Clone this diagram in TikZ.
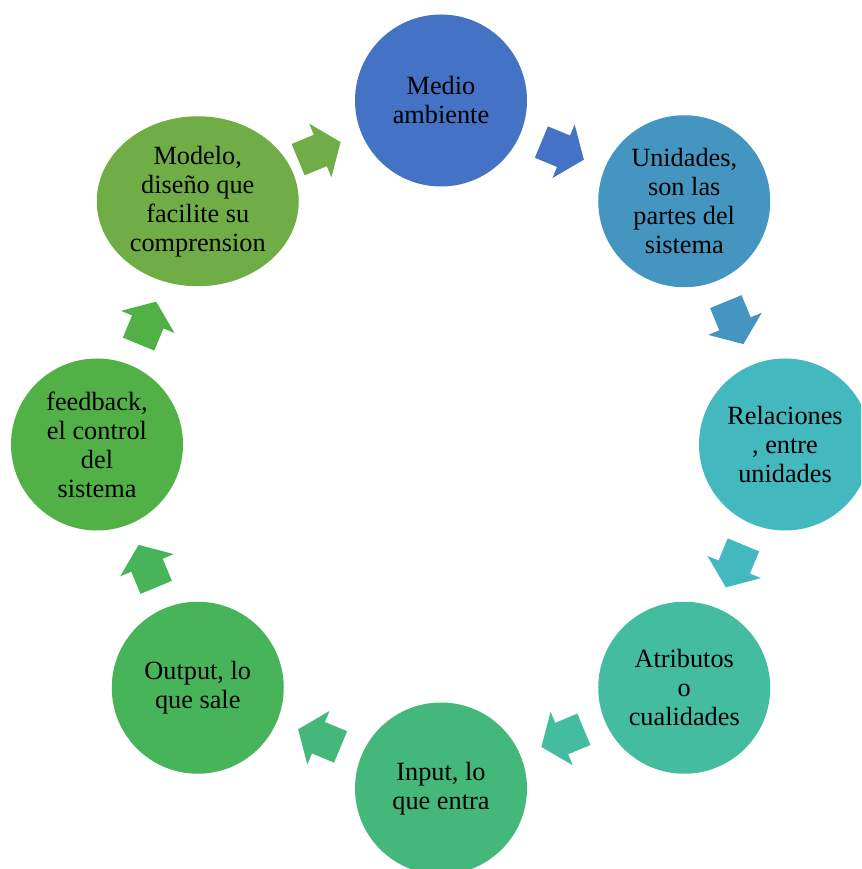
\documentclass[tikz,border=0pt]{standalone}
\usepackage{fontspec}
\setmainfont{Liberation Serif}
\usetikzlibrary{calc,shapes.geometric}
\definecolor{c1}{RGB}{68,114,196}
\definecolor{c2}{RGB}{68,150,193}
\definecolor{c3}{RGB}{68,184,191}
\definecolor{c4}{RGB}{67,188,160}
\definecolor{c5}{RGB}{68,184,123}
\definecolor{c6}{RGB}{72,180,89}
\definecolor{c7}{RGB}{82,177,70}
\definecolor{c8}{RGB}{112,173,71}
\begin{document}
\begin{tikzpicture}[x=1pt,y=1pt,
  bub/.style={circle, minimum size=172pt, inner sep=0pt, align=center,
    font=\fontsize{26.3}{29}\selectfont, text=black},
  blockarr/.pic={\fill (-23,-17) -- (1,-17) -- (1,-29) -- (23,0) -- (1,29) -- (1,17) -- (-23,17) -- cycle;}
]
\useasboundingbox (-441,-424.5) rectangle (420,444.5);
\clip (-441,-424.5) rectangle (420,444.5);
\node[bub, fill=c1] (n1) at (90:344) {Medio\\ambiente};
\node[bub, fill=c2] (n2) at (45:344) {Unidades,\\son las\\partes del\\sistema};
\node[bub, fill=c3] (n3) at (0:344) {Relaciones\\, entre\\unidades};
\node[bub, fill=c4] (n4) at (-45:344) {Atributos\\o\\cualidades};
\node[bub, fill=c5] (n5) at (-90:344) {Input, lo\\que entra};
\node[bub, fill=c6] (n6) at (-135:344) {Output, lo\\que sale};
\node[bub, fill=c7] (n7) at (180:344) {feedback,\\el control\\del\\sistema};
\node[bub, ellipse, minimum width=202pt, minimum height=170pt, fill=c8] (n8) at (135:344) {Modelo,\\diseño que\\facilite su\\comprension};
\pic[color=c1, rotate=-22.5] at ($(n1)!0.5!(n2)$) {blockarr};
\pic[color=c2, rotate=-67.5] at ($(n2)!0.5!(n3)$) {blockarr};
\pic[color=c3, rotate=-112.5] at ($(n3)!0.5!(n4)$) {blockarr};
\pic[color=c4, rotate=-157.5] at ($(n4)!0.5!(n5)$) {blockarr};
\pic[color=c5, rotate=157.5] at ($(n5)!0.5!(n6)$) {blockarr};
\pic[color=c6, rotate=112.5] at ($(n6)!0.5!(n7)$) {blockarr};
\pic[color=c7, rotate=67.5] at ($(n7)!0.5!(n8)$) {blockarr};
\pic[color=c8, rotate=22.5] at ($(n8)!0.5!(n1)$) {blockarr};
\end{tikzpicture}
\end{document}
